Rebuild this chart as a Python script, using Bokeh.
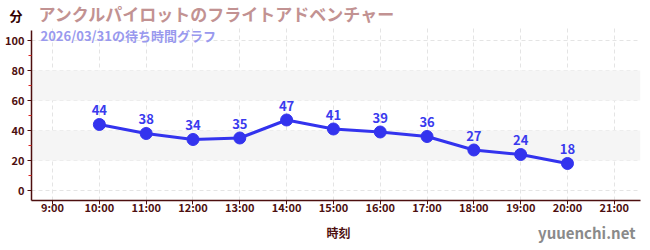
from bokeh.plotting import figure
from bokeh.layouts import column
from bokeh.models import ColumnDataSource, FixedTicker, BoxAnnotation, Label, LabelSet
from bokeh.core.properties import value
from bokeh.embed import file_html
from bokeh.resources import INLINE

title_text = "アンクルパイロットのフライトアドベンチャー"
subtitle_text = "2026/03/31の待ち時間グラフ"
y_unit = "分"
x_label = "時刻"
watermark = "yuuenchi.net"

hours = [10, 11, 12, 13, 14, 15, 16, 17, 18, 19, 20]
waits = [44, 38, 34, 35, 47, 41, 39, 36, 27, 24, 18]
tick_hours = list(range(9, 22))
tick_labels = [f"{h}:00" for h in tick_hours]
y_ticks = [0, 20, 40, 60, 80, 100]
y_minor = [10, 30, 50, 70, 90]
bands = [(20, 40), (60, 80)]

FONT = "'Noto Sans CJK JP'"
AXIS = "#4d0f0f"
W = 650
LEFT, RIGHT = 31, 10
HEAD_H, FOOT_H = 25, 28


def strip(h):
    f = figure(width=W, height=h, output_backend="svg", toolbar_location=None,
               x_axis_location=None,
               x_range=(0, 1), y_range=(0, h),
               min_border_left=LEFT, min_border_right=RIGHT,
               min_border_top=0, min_border_bottom=0)
    f.outline_line_color = None
    f.grid.visible = False
    return f


# header: unit (as a tick label of a hidden axis) + title
head = strip(HEAD_H)
hy = head.yaxis[0]
hy.ticker = FixedTicker(ticks=[HEAD_H - 16.5], minor_ticks=[])
hy.major_label_overrides = {HEAD_H - 16.5: y_unit}
hy.axis_line_color = None
hy.major_tick_line_color = None
hy.minor_tick_line_color = None
hy.major_tick_out = 0
hy.major_label_standoff = 9
hy.major_label_text_font = FONT
hy.major_label_text_font_style = "bold"
hy.major_label_text_font_size = "13px"
hy.major_label_text_color = "#330000"
head.add_layout(Label(x=7, y=HEAD_H - 12.5, x_units="screen", y_units="screen", text=title_text,
                      text_font=FONT, text_font_style="bold", text_font_size="17px",
                      text_color="#c29292", text_baseline="middle"))

# main chart
p = figure(width=W, height=250 - HEAD_H - FOOT_H, output_backend="svg", toolbar_location=None,
           x_range=(8.55, 21.56), y_range=(-6.67, 110.0),
           min_border_left=LEFT, min_border_right=RIGHT, min_border_top=0, min_border_bottom=22)
p.outline_line_color = None
p.background_fill_color = "white"

for lo, hi in bands:
    p.add_layout(BoxAnnotation(bottom=lo, top=hi, fill_color="#f5f5f5", fill_alpha=1,
                               line_color=None, level="underlay"))

p.xaxis.ticker = FixedTicker(ticks=tick_hours)
p.xaxis.major_label_overrides = {h: l for h, l in zip(tick_hours, tick_labels)}
p.yaxis.ticker = FixedTicker(ticks=y_ticks, minor_ticks=y_minor)
p.yaxis.bounds = (-6.67, 106.7)

for ax in (p.xaxis[0], p.yaxis[0]):
    ax.axis_line_color = AXIS
    ax.axis_line_width = 1.5
    ax.major_tick_line_color = AXIS
    ax.major_tick_in = 0
    ax.major_tick_out = 4
    ax.major_label_text_color = AXIS
    ax.major_label_text_font = FONT
    ax.major_label_text_font_style = "bold"
    ax.major_label_text_font_size = "11px"
p.xaxis.minor_tick_line_color = None
p.yaxis.minor_tick_line_color = "#dd2222"
p.yaxis.minor_tick_in = 0
p.yaxis.minor_tick_out = 3
p.xaxis.major_label_standoff = -6
p.yaxis.major_label_standoff = 3

p.xgrid.grid_line_color = "#e4e4e4"
p.xgrid.grid_line_dash = "4 3"
p.ygrid.grid_line_color = "#e4e4e4"
p.ygrid.grid_line_dash = "4 3"

src = ColumnDataSource(dict(x=hours, y=waits, t=[str(v) for v in waits]))
p.line("x", "y", source=src, line_color="#3333ee", line_width=3)
p.scatter("x", "y", source=src, size=12, fill_color="#3333ee", line_color="#3333ee")
p.add_layout(LabelSet(x="x", y="y", text="t", source=src, y_offset=9, text_align="center",
                      text_font=value(FONT), text_font_style="bold", text_font_size="13px",
                      text_color="#3a3aee"))

p.add_layout(Label(x=9, y=165.5, x_units="screen", y_units="screen", text=subtitle_text,
                   text_font=FONT, text_font_style="bold", text_font_size="13px",
                   text_color="#9999ee", text_baseline="middle"))

# footer: axis title + watermark
foot = strip(FOOT_H)
foot.yaxis.visible = False
foot.add_layout(Label(x=307, y=18, x_units="screen", y_units="screen", text=x_label,
                      text_font=FONT, text_font_style="bold", text_font_size="12px",
                      text_color=AXIS, text_align="center", text_baseline="middle"))
foot.add_layout(Label(x=604, y=18, x_units="screen", y_units="screen", text=watermark,
                      text_font=FONT, text_font_style="bold", text_font_size="15px",
                      text_align="right", text_color="#8a8a8a", text_baseline="middle"))

layout = column(head, p, foot, spacing=0)
open("out.html", "w").write(file_html(layout, INLINE))
